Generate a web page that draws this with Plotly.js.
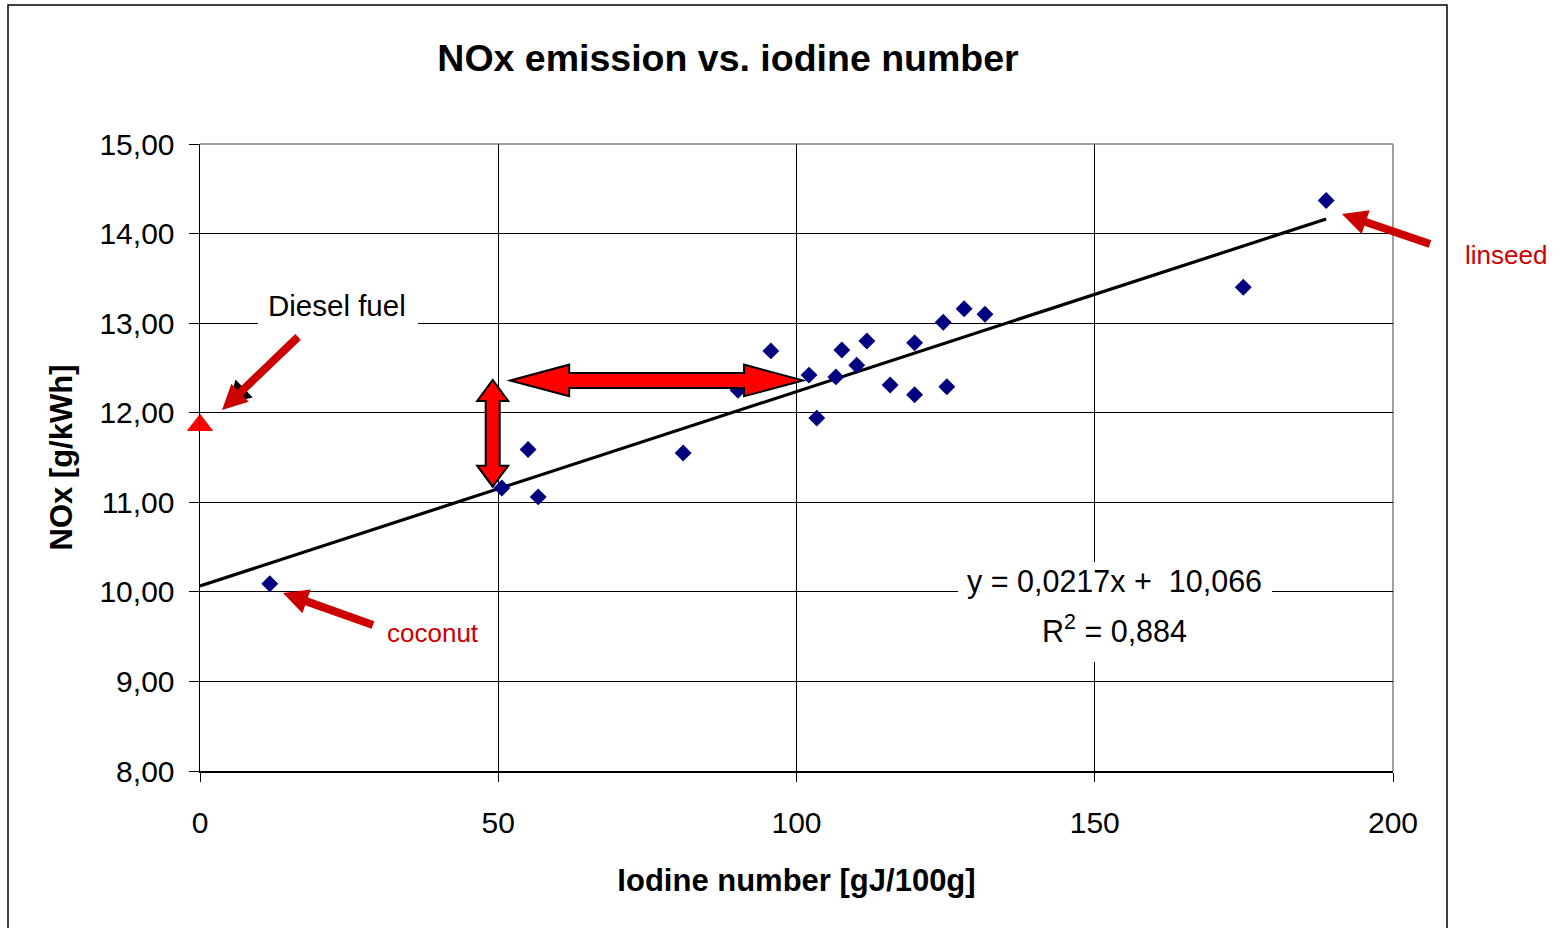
<!DOCTYPE html>
<html>
<head>
<meta charset="utf-8">
<script src="https://cdn.plot.ly/plotly-3.0.1.min.js"></script>
<style>
  html, body { margin: 0; padding: 0; background: #ffffff; }
  #chart { width: 1560px; height: 928px; }
</style>
</head>
<body>
<div id="chart"></div>
<script>
// Iodine number [gJ/100g] and NOx emission [g/kWh] of the tested vegetable oils
const iodine = [11.7, 50.6, 55.0, 56.7, 81.0, 90.2, 95.7, 102.1, 103.4, 106.6, 107.6, 110.1, 111.8, 115.7, 119.8, 119.8, 124.6, 125.2, 128.1, 131.6, 174.9, 188.8];
const nox    = [10.09, 11.16, 11.59, 11.06, 11.55, 12.25, 12.69, 12.42, 11.94, 12.40, 12.70, 12.53, 12.80, 12.31, 12.78, 12.20, 13.01, 12.29, 13.16, 13.10, 13.40, 14.37];

// Reference fuel
const dieselIodine = [0];
const dieselNox = [11.86];

// Linear trend (as stated in the equation label)
const slope = 0.0217;
const intercept = 10.066;
const rSquared = 0.884;

// Axis setup
const xRange = [0, 200];
const yRange = [8, 15];
const xTicks = [0, 50, 100, 150, 200];
const yTicks = [8, 9, 10, 11, 12, 13, 14, 15];

// Page geometry
const W = 1560, H = 928;
const M = { l: 200, r: 167, t: 144, b: 157 };
const PW = W - M.l - M.r, PH = H - M.t - M.b;
const ux = (xRange[1] - xRange[0]) / PW;   // data units per pixel (x)
const uy = (yRange[1] - yRange[0]) / PH;   // data units per pixel (y)
const pxX = px => (px - M.l) / PW;         // page pixel -> paper x
const pxY = py => (H - M.b - py) / PH;     // page pixel -> paper y

const trendX = [0, Math.max(...iodine)];
const trendY = trendX.map(x => slope * x + intercept);

const fmt = (v, d) => v.toFixed(d).replace('.', ',');

// Double-headed block arrows in data space (sizes in pixels)
function hArrow(x0, x1, y, sh, hh, hl) {
  const a = hl * ux, s = sh * uy, h = hh * uy;
  return `M${x0},${y} L${x0 + a},${y + h} L${x0 + a},${y + s} L${x1 - a},${y + s} L${x1 - a},${y + h} L${x1},${y} ` +
         `L${x1 - a},${y - h} L${x1 - a},${y - s} L${x0 + a},${y - s} L${x0 + a},${y - h} Z`;
}
function vArrow(x, y0, y1, sh, hh, hl) {
  const a = hl * uy, s = sh * ux, h = hh * ux;
  return `M${x},${y0} L${x + h},${y0 + a} L${x + s},${y0 + a} L${x + s},${y1 - a} L${x + h},${y1 - a} L${x},${y1} ` +
         `L${x - h},${y1 - a} L${x - s},${y1 - a} L${x - s},${y0 + a} L${x - h},${y0 + a} Z`;
}

// Single pointer arrow as a polygon, built in page pixels then mapped to paper
function pointer(tip, tail, shaftW, headHalf, headLen) {
  const dx = tip[0] - tail[0], dy = tip[1] - tail[1];
  const len = Math.hypot(dx, dy);
  const ex = dx / len, ey = dy / len;      // unit direction
  const nx = -ey, ny = ex;                 // unit normal
  const bx = tip[0] - ex * headLen, by = tip[1] - ey * headLen;
  const s = shaftW / 2;
  const pts = [
    [tail[0] + nx * s, tail[1] + ny * s],
    [bx + nx * s, by + ny * s],
    [bx + nx * headHalf, by + ny * headHalf],
    [tip[0], tip[1]],
    [bx - nx * headHalf, by - ny * headHalf],
    [bx - nx * s, by - ny * s],
    [tail[0] - nx * s, tail[1] - ny * s]
  ];
  return 'M' + pts.map(p => pxX(p[0]) + ',' + pxY(p[1])).join(' L') + ' Z';
}

const traces = [
  {
    x: trendX, y: trendY, mode: 'lines', type: 'scatter',
    line: { color: '#000000', width: 3.2 }, hoverinfo: 'skip', showlegend: false
  },
  {
    x: iodine, y: nox, mode: 'markers', type: 'scatter',
    marker: { symbol: 'diamond', size: 13, color: '#000080' }, showlegend: false
  },
  {
    x: dieselIodine, y: dieselNox, mode: 'markers', type: 'scatter',
    marker: { symbol: 'triangle-up', size: 23, color: '#FF0000' }, showlegend: false,
    cliponaxis: false
  }
];

const txt = { family: 'Liberation Sans, Arial, sans-serif', color: '#000000' };

const shapes = [
  // outer chart frame
  { type: 'rect', xref: 'paper', yref: 'paper', x0: pxX(8), x1: pxX(1447), y0: pxY(5), y1: pxY(960),
    line: { color: '#000000', width: 1.5 }, fillcolor: 'rgba(0,0,0,0)', layer: 'below' },
  // lighter top and right edges of the plot area
  { type: 'line', xref: 'paper', yref: 'paper', x0: 0, x1: 1, y0: 1, y1: 1, line: { color: '#808080', width: 1.5 }, layer: 'below' },
  { type: 'line', xref: 'paper', yref: 'paper', x0: 1, x1: 1, y0: 0, y1: 1, line: { color: '#808080', width: 1.5 }, layer: 'below' },
  // white label backgrounds
  { type: 'rect', xref: 'paper', yref: 'paper', x0: pxX(258), x1: pxX(418), y0: pxY(330), y1: pxY(282),
    fillcolor: '#ffffff', line: { width: 0 }, layer: 'above' },
  { type: 'rect', xref: 'paper', yref: 'paper', x0: pxX(958), x1: pxX(1272), y0: pxY(662), y1: pxY(562),
    fillcolor: '#ffffff', line: { width: 0 }, layer: 'above' },
  // double arrows
  { type: 'path', xref: 'x', yref: 'y', path: hArrow(52.0, 101.1, 12.36, 7.5, 15.8, 59),
    fillcolor: '#FF0000', line: { color: '#000000', width: 2 }, layer: 'above' },
  { type: 'path', xref: 'x', yref: 'y', path: vArrow(49.07, 11.174, 12.365, 7, 15.5, 21),
    fillcolor: '#FF0000', line: { color: '#000000', width: 2 }, layer: 'above' },
  // pointer arrows
  { type: 'path', xref: 'paper', yref: 'paper', path: pointer([229, 403], [298, 337], 2, 12.5, 21),
    fillcolor: '#000000', line: { width: 0 }, layer: 'above' },
  { type: 'path', xref: 'paper', yref: 'paper', path: pointer([222, 410], [298, 337], 8, 12.5, 25),
    fillcolor: '#CC0000', line: { width: 0 }, layer: 'above' },
  { type: 'path', xref: 'paper', yref: 'paper', path: pointer([283, 593], [373, 625], 8, 12.5, 25),
    fillcolor: '#CC0000', line: { width: 0 }, layer: 'above' },
  { type: 'path', xref: 'paper', yref: 'paper', path: pointer([1342, 214], [1430, 244], 8, 12.5, 25),
    fillcolor: '#CC0000', line: { width: 0 }, layer: 'above' }
];

const annotations = [
  { x: pxX(337), y: pxY(305), xref: 'paper', yref: 'paper', text: 'Diesel fuel', showarrow: false,
    font: Object.assign({}, txt, { size: 29.5 }), xanchor: 'center', yanchor: 'middle' },
  { x: pxX(433), y: pxY(633), xref: 'paper', yref: 'paper', text: 'coconut', showarrow: false,
    font: Object.assign({}, txt, { size: 26, color: '#CC0000' }), xanchor: 'center', yanchor: 'middle' },
  { x: pxX(1506), y: pxY(255), xref: 'paper', yref: 'paper', text: 'linseed', showarrow: false,
    font: Object.assign({}, txt, { size: 26, color: '#CC0000' }), xanchor: 'center', yanchor: 'middle' },
  { x: pxX(1114), y: pxY(581), xref: 'paper', yref: 'paper',
    text: 'y = ' + fmt(slope, 4) + 'x +  ' + fmt(intercept, 3), showarrow: false,
    font: Object.assign({}, txt, { size: 30.5 }), xanchor: 'center', yanchor: 'middle' },
  { x: pxX(1114), y: pxY(629), xref: 'paper', yref: 'paper',
    text: 'R<sup>2</sup> = ' + fmt(rSquared, 3), showarrow: false,
    font: Object.assign({}, txt, { size: 30.5 }), xanchor: 'center', yanchor: 'middle' }
];

const layout = {
  width: W, height: H,
  margin: M,
  paper_bgcolor: '#ffffff', plot_bgcolor: '#ffffff',
  separators: ', ',
  showlegend: false,
  title: {
    text: '<b>NOx emission vs. iodine number</b>',
    font: Object.assign({}, txt, { size: 37.5 }),
    xref: 'paper', x: pxX(728), xanchor: 'center',
    yref: 'container', y: 1 - 58 / H, yanchor: 'middle'
  },
  xaxis: {
    range: xRange, tickvals: xTicks, ticktext: xTicks.map(String),
    showgrid: true, gridcolor: '#000000', gridwidth: 1,
    zeroline: false, showline: true, linecolor: '#000000', linewidth: 1.5,
    ticks: 'outside', ticklen: 9, tickcolor: '#000000', tickwidth: 1,
    ticklabelstandoff: 15,
    tickfont: Object.assign({}, txt, { size: 30 }),
    title: { text: '<b>Iodine number [gJ/100g]</b>', font: Object.assign({}, txt, { size: 31 }), standoff: 32 }
  },
  yaxis: {
    range: yRange, tickvals: yTicks, ticktext: yTicks.map(v => fmt(v, 2)),
    showgrid: true, gridcolor: '#000000', gridwidth: 1,
    zeroline: false, showline: true, linecolor: '#000000', linewidth: 1.5,
    ticks: 'outside', ticklen: 10, tickcolor: '#000000', tickwidth: 1,
    ticklabelstandoff: 8,
    tickfont: Object.assign({}, txt, { size: 30 }),
    title: { text: '<b>NOx [g/kWh]</b>', font: Object.assign({}, txt, { size: 31 }), standoff: 17 }
  },
  shapes: shapes,
  annotations: annotations
};

Plotly.newPlot('chart', traces, layout, { staticPlot: true, displayModeBar: false });
</script>
</body>
</html>
